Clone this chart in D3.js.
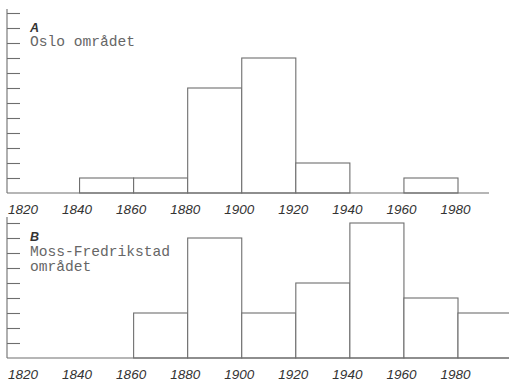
<!DOCTYPE html>
<html><head><meta charset="utf-8">
<script src="https://cdn.jsdelivr.net/npm/d3@7"></script>
<style>
html,body{margin:0;padding:0;background:#fff;}
svg{display:block;}
</style></head>
<body>
<svg id="c" width="509" height="382"></svg>
<script>
const binStarts = [1820,1840,1860,1880,1900,1920,1940,1960,1980];
const osloCounts = [0,1,1,7,9,2,0,1,0];
const mossCounts = [0,0,3,8,3,5,9,4,3];
const yearTicks = [1820,1840,1860,1880,1900,1920,1940,1960,1980];
const osloYTicks = d3.range(1,13);
const mossYTicks = d3.range(1,10);
const panelA = {letter:"A", lines:["Oslo området"]};
const panelB = {letter:"B", lines:["Moss-Fredrikstad","området"]};

const svg = d3.select("#c");
const lineColor = "#6e6e6e";
const textColor = "#333";
const binWidth = 20;

const x = d3.scaleLinear().domain([1820,1980]).range([25.5,458]);
const axisX = 7;

function panel(counts, yTicks, yMax, baseY, topY, axisTop, baseEnd, labelY, info, letterY, lineYs){
  const y = d3.scaleLinear().domain([0,yMax]).range([baseY, topY]);
  const g = svg.append("g");
  const data = binStarts.map((s,i)=>({s, v:counts[i]})).filter(d=>d.v>0);
  g.selectAll("rect").data(data).join("rect")
    .attr("x", d=>x(d.s)).attr("width", d=>x(d.s+binWidth)-x(d.s))
    .attr("y", d=>y(d.v)).attr("height", d=>y(0)-y(d.v))
    .attr("fill","#fff").attr("stroke",lineColor).attr("stroke-width",1.1);
  const ya = d3.axisRight(y).tickValues(yTicks).tickSize(13).tickSizeOuter(0).tickFormat("");
  const yg = g.append("g").attr("transform",`translate(${axisX},0)`).call(ya);
  yg.select(".domain").remove();
  yg.selectAll(".tick line").attr("stroke",lineColor).attr("stroke-width",1.1);
  g.append("line").attr("x1",axisX).attr("x2",axisX).attr("y1",axisTop).attr("y2",baseY)
    .attr("stroke",lineColor).attr("stroke-width",1.1);
  g.append("line").attr("x1",axisX).attr("x2",baseEnd).attr("y1",baseY).attr("y2",baseY)
    .attr("stroke",lineColor).attr("stroke-width",1.1);
  const xa = d3.axisBottom(x).tickValues(yearTicks).tickSize(0).tickFormat(d3.format("d"));
  const xg = g.append("g").attr("transform",`translate(-3,${labelY})`).call(xa);
  xg.select(".domain").remove();
  xg.selectAll(".tick text").attr("dy",0).attr("y",0)
    .style("font-family","'Liberation Sans', Arial, sans-serif")
    .style("font-style","italic").style("font-size","13.5px").attr("fill",textColor);
  g.append("text").attr("x",30).attr("y",letterY).text(info.letter)
    .style("font-family","'Liberation Sans', Arial, sans-serif").style("font-style","italic")
    .style("font-weight","bold").style("font-size","12.5px").attr("fill",textColor);
  info.lines.forEach((t,i)=>{
    g.append("text").attr("x",30).attr("y",lineYs[i]).text(t)
      .style("font-family","'Liberation Mono', 'DejaVu Sans Mono', monospace")
      .style("font-size","14.6px").attr("fill","#666");
  });
}

panel(osloCounts, osloYTicks, 12, 193, 13, 9, 489, 214, panelA, 31.5, [46]);
panel(mossCounts, mossYTicks, 9, 358, 223, 217, 509, 379, panelB, 240.5, [256, 271]);
</script>
</body></html>
